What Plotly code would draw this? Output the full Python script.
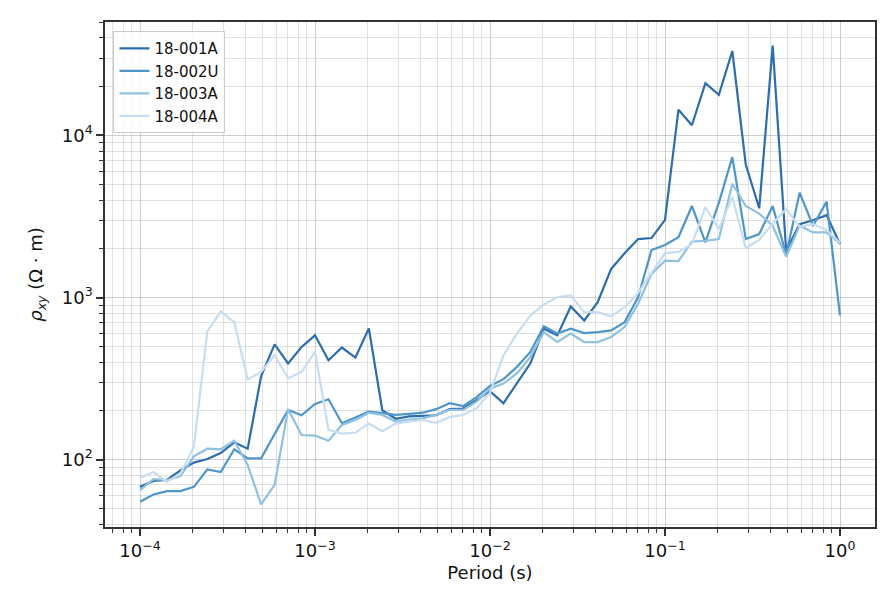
import plotly.graph_objects as go

# periods (s), 13 per decade from 1e-4 to 1
period = [
    1.0e-4, 1.1938e-4, 1.4251e-4, 1.7013e-4, 2.0309e-4, 2.4245e-4, 2.8943e-4,
    3.4551e-4, 4.1246e-4, 4.9239e-4, 5.8780e-4, 7.0170e-4, 8.3768e-4,
    1.0e-3, 1.1938e-3, 1.4251e-3, 1.7013e-3, 2.0309e-3, 2.4245e-3, 2.8943e-3,
    3.4551e-3, 4.1246e-3, 4.9239e-3, 5.8780e-3, 7.0170e-3, 8.3768e-3,
    1.0e-2, 1.1938e-2, 1.4251e-2, 1.7013e-2, 2.0309e-2, 2.4245e-2, 2.8943e-2,
    3.4551e-2, 4.1246e-2, 4.9239e-2, 5.8780e-2, 7.0170e-2, 8.3768e-2,
    1.0e-1, 1.1938e-1, 1.4251e-1, 1.7013e-1, 2.0309e-1, 2.4245e-1, 2.8943e-1,
    3.4551e-1, 4.1246e-1, 4.9239e-1, 5.8780e-1, 7.0170e-1, 8.3768e-1,
    1.0,
]

rho_001A = [
    68, 74, 75, 86, 96, 101, 110, 128, 117, 328, 515, 393, 496,
    585, 411, 492, 427, 646, 202, 179, 185, 186, 188, 205, 207, 233,
    265, 223, 298, 393, 643, 585, 881, 723, 937, 1503, 1875, 2297, 2330,
    3020, 14420, 11570, 21000, 17800, 33200, 6620, 3555, 35800, 1945, 2840, 3000, 3225,
    2140,
]
rho_002U = [
    55, 61, 64, 64, 68, 87, 84, 116, 102, 102, 144, 203, 188,
    221, 236, 168, 182, 198, 194, 189, 192, 195, 205, 223, 214, 243,
    285, 314, 374, 462, 665, 600, 643, 604, 613, 628, 706, 1005, 1965,
    2110, 2360, 3675, 2188, 3850, 7350, 2297, 2466, 3675, 1840, 4440, 2773, 3910,
    776,
]
rho_003A = [
    65, 76, 75, 79, 105, 117, 116, 131, 93, 53, 70, 205, 142,
    141, 131, 164, 176, 195, 189, 172, 177, 180, 189, 203, 203, 228,
    275, 295, 341, 431, 613, 532, 600, 532, 532, 572, 658, 916, 1400,
    1690, 1680, 2220, 2240, 2297, 5040, 3675, 3296, 2773, 1786, 2773, 2524, 2524,
    2158,
]
rho_004A = [
    77, 84, 73, 82, 120, 619, 822, 706, 312, 348, 441, 318, 348,
    462, 153, 145, 147, 167, 150, 167, 172, 176, 169, 183, 189, 208,
    259, 440, 600, 776, 907, 1005, 1031, 813, 813, 766, 873, 1065, 1433,
    1880, 1915, 2140, 3620, 2650, 4170, 2022, 2265, 2865, 3510, 2735, 2840, 2610,
    2188,
]

stations = ["18-001A", "18-002U", "18-003A", "18-004A"]
series = [rho_001A, rho_002U, rho_003A, rho_004A]
colors = ["#2e6dab", "#4f96c8", "#8fc2e1", "#c9ddf1"]

x_ticks = [1e-4, 1e-3, 1e-2, 1e-1, 1]
x_labels = ["10<sup>−4</sup>", "10<sup>−3</sup>", "10<sup>−2</sup>", "10<sup>−1</sup>", "10<sup>0</sup>"]
y_ticks = [1e2, 1e3, 1e4]
y_labels = ["10<sup>2</sup>", "10<sup>3</sup>", "10<sup>4</sup>"]

fig = go.Figure()
for name, vals, c in zip(stations, series, colors):
    fig.add_trace(go.Scatter(x=period, y=vals, mode="lines", name=name,
                             line=dict(color=c, width=2.2)))

grid = "rgba(176,176,176,0.38)"
axis_common = dict(
    type="log", tickmode="array",
    showline=True, linecolor="#333333", linewidth=1.5, mirror=True,
    ticks="outside", ticklen=7, tickwidth=1.5, tickcolor="#333333",
    showgrid=True, gridcolor=grid, gridwidth=1, zeroline=False,
    tickfont=dict(size=18, color="#111111"),
    minor=dict(dtick="D1", ticks="outside", ticklen=4, tickwidth=1,
               tickcolor="#333333", showgrid=True, gridcolor=grid, gridwidth=1),
)

fig.update_xaxes(range=[-4.2, 0.2], tickvals=x_ticks, ticktext=x_labels,
                 title=dict(text="Period (s)", font=dict(size=18), standoff=6),
                 **axis_common)
fig.update_yaxes(range=[1.585, 4.70], tickvals=y_ticks, ticktext=y_labels,
                 title=dict(text="<i>ρ</i><sub><i>xy</i></sub> (Ω · m)", font=dict(size=18), standoff=14),
                 **axis_common)

# page body keeps an 8px margin, so the figure is sized to fit inside it
fig.update_layout(
    width=888, height=608,
    margin=dict(l=97, r=21, t=12, b=89),
    paper_bgcolor="white", plot_bgcolor="white",
    font=dict(family="DejaVu Sans", color="#111111"),
    showlegend=True,
    legend=dict(x=0.011, y=0.982, xanchor="left", yanchor="top",
                bgcolor="rgba(255,255,255,0.85)", bordercolor="#cccccc", borderwidth=1,
                font=dict(size=15), itemwidth=30, tracegroupgap=0),
)

fig.write_html("out.html")
